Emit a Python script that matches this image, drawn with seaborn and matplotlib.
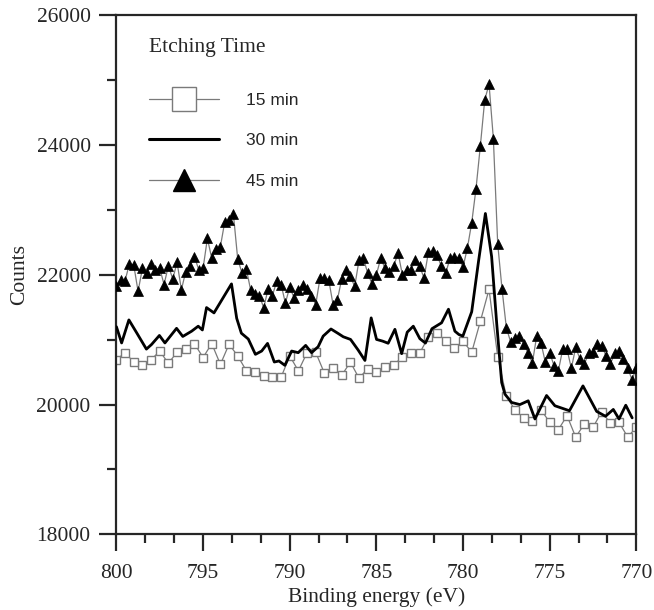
import numpy as np
import pandas as pd
import matplotlib
matplotlib.use("Agg")
import matplotlib.pyplot as plt
from matplotlib.lines import Line2D
from matplotlib.ticker import AutoMinorLocator
import seaborn as sns

# ---------------- data ----------------
x_45 = np.linspace(800, 770, 121)   # 0.25 eV steps
counts_45 = [
    21820, 21920, 21910, 22170, 22150, 21745, 22100, 22035, 22170, 22080,
    22100, 21850, 22140, 21935, 22190, 21770, 22050, 22130, 22280, 22080,
    22100, 22560, 22255, 22395, 22435, 22815, 22845, 22935, 22240, 22025,
    22085, 21760, 21710, 21680, 21490, 21780, 21680, 21900, 21850, 21565,
    21810, 21645, 21770, 21850, 21780, 21680, 21540, 21950, 21950, 21925,
    21540, 21615, 21935, 22075, 21975, 21820, 22230, 22255, 22025, 21860,
    22000, 22255, 22100, 22050, 22130, 22340, 22000, 22075, 22075, 22230,
    22130, 21950, 22345, 22360, 22305, 22130, 22025, 22255, 22280, 22255,
    22120, 22410, 22800, 23330, 23990, 24690, 24940, 24100, 22480, 21780,
    21183, 20963, 21030, 21055, 20930, 20800, 20640, 21055, 20950, 20650,
    20800, 20600, 20520, 20850, 20850, 20560, 20880, 20700, 20620, 20800,
    20810, 20930, 20910, 20750, 20620, 20800, 20820, 20700, 20570, 20380,
    20570,
]

x_15 = np.linspace(800, 770, 61)    # 0.5 eV steps
counts_15 = [
    20690, 20800, 20655, 20605, 20690, 20825, 20635, 20810, 20860, 20940,
    20725, 20940, 20620, 20930, 20750, 20520, 20505, 20435, 20420, 20420,
    20750, 20520, 20800, 20805, 20485, 20570, 20450, 20656, 20405, 20555,
    20505, 20580, 20610, 20735, 20800, 20795, 21040, 21110, 20978, 20870,
    20978, 20805, 21284, 21775, 20740, 20125, 19920, 19790, 19752, 19920,
    19727, 19614, 19829, 19500, 19700, 19650, 19890, 19715, 19727, 19500,
    19650,
]

x_30 = [
    800.00, 799.70, 799.28, 798.83, 798.27, 797.97, 797.52, 797.20, 796.53, 796.17,
    795.66, 795.28, 795.04, 794.80, 794.37, 793.36, 793.06, 792.79, 792.39, 791.98,
    791.62, 791.28, 790.89, 790.62, 790.28, 789.89, 789.51, 789.08, 788.74, 788.36,
    788.07, 787.62, 787.20, 786.91, 786.49, 786.05, 785.66, 785.30, 784.99, 784.64,
    784.32, 783.93, 783.54, 783.22, 782.87, 782.49, 782.17, 781.79, 781.24, 780.84,
    780.47, 780.24, 780.01, 779.50, 779.11, 778.71, 778.35, 778.06, 777.77, 777.58,
    777.20, 776.72, 776.24, 775.85, 775.18, 774.70, 773.86, 773.08, 772.29, 771.78,
    771.33, 771.00, 770.61, 770.24,
]
counts_30 = [
    21200, 20950, 21305, 21106, 20855, 20927, 21065, 20950, 21175, 21050,
    21131, 21208, 21150, 21495, 21413, 21860, 21330, 21100, 21010, 20774,
    20825, 20943, 20656, 20672, 20605, 20825, 20800, 20912, 20800, 20892,
    21055, 21165, 21095, 21045, 21004, 20840, 20680, 21336, 21004, 20978,
    20945, 21160, 20785, 21116, 21208, 21015, 20948, 21170, 21260, 21470,
    21131, 21080, 21055, 21430, 22200, 22945, 22280, 21260, 20340, 20160,
    20033, 20000, 20058, 19778, 20140, 19982, 19905, 20288, 19895, 19820,
    19925, 19778, 19990, 19795,
]

series_labels = ["15 min", "30 min", "45 min"]
legend_title = "Etching Time"
x_ticks = [800, 795, 790, 785, 780, 775, 770]
y_ticks = [18000, 20000, 22000, 24000, 26000]

# ---------------- plotting ----------------
sns.set_style("ticks")
serif = ["Liberation Serif", "DejaVu Serif"]
sans = ["Liberation Sans", "DejaVu Sans"]
plt.rcParams["font.family"] = serif

fig = plt.figure(figsize=(6.54, 6.10), dpi=100)
ax = fig.add_axes([0.178, 0.124, 0.795, 0.851])

grey = "#7a7a7a"
df15 = pd.DataFrame({"x": x_15, "y": counts_15})
df30 = pd.DataFrame({"x": x_30, "y": counts_30})
df45 = pd.DataFrame({"x": x_45, "y": counts_45})

sns.lineplot(data=df15, x="x", y="y", ax=ax, color=grey, lw=0.9,
             marker="s", markersize=6, markerfacecolor="white",
             markeredgecolor=grey, markeredgewidth=1.0, zorder=2)
sns.lineplot(data=df30, x="x", y="y", ax=ax, color="black", lw=2.0, zorder=3)
sns.lineplot(data=df45, x="x", y="y", ax=ax, color=grey, lw=0.9,
             marker="^", markersize=6.5, markerfacecolor="black",
             markeredgecolor="black", markeredgewidth=0.5, zorder=4)

ax.set_xlim(800, 770)
ax.set_ylim(18000, 26000)
ax.set_xticks(x_ticks)
ax.set_yticks(y_ticks)
ax.set_xticklabels([str(v) for v in x_ticks])
ax.set_yticklabels([str(v) for v in y_ticks])
ax.xaxis.set_minor_locator(AutoMinorLocator(3))
ax.yaxis.set_minor_locator(AutoMinorLocator(2))
ax.tick_params(axis="both", which="major", direction="out", length=12.5, width=1.6,
               labelsize=15.5, top=False, right=False)
ax.tick_params(axis="both", which="minor", direction="out", length=6.5, width=1.6,
               top=False, right=False)
ax.tick_params(axis="x", which="major", pad=9)
ax.tick_params(axis="y", which="major", pad=6)
for s in ax.spines.values():
    s.set_linewidth(1.6)
    s.set_visible(True)

ax.set_xlabel("Binding energy (eV)", fontsize=15.5, labelpad=3)
ax.set_ylabel("Counts", fontsize=15.5, labelpad=5)

handles = [
    Line2D([], [], color=grey, lw=0.9, marker="s", markersize=17,
           markerfacecolor="white", markeredgecolor=grey, markeredgewidth=1.0),
    Line2D([], [], color="black", lw=2.2),
    Line2D([], [], color=grey, lw=0.9, marker="^", markersize=16,
           markerfacecolor="black", markeredgecolor="black"),
]
leg = ax.legend(handles, series_labels, loc="upper left", frameon=False,
                title=legend_title, handlelength=4.0, handletextpad=1.55,
                labelspacing=1.45, numpoints=1, borderaxespad=0.0,
                bbox_to_anchor=(0.05, 0.97),
                prop={"family": sans, "size": 12.5})
leg.get_title().set_fontfamily(serif)
leg.get_title().set_fontsize(15.5)
leg._legend_box.align = "left"
leg._legend_box.sep = 26

fig.savefig("out.png", dpi=100)
